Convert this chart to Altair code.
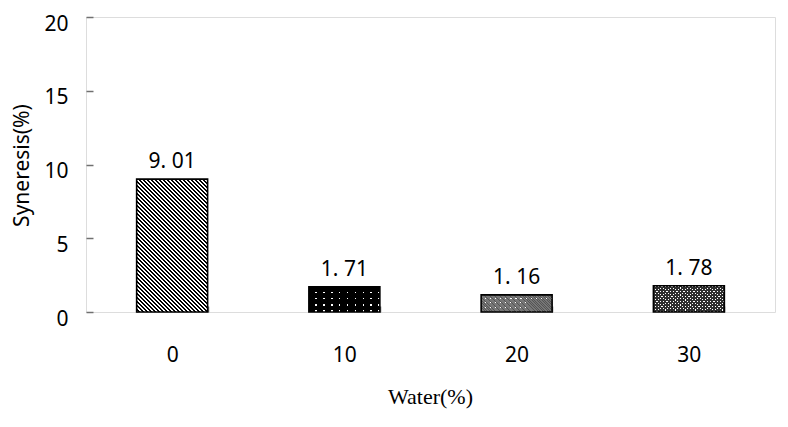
import altair as alt
import pandas as pd

# ---- data ----
water = ["0", "10", "20", "30"]
syneresis = [9.01, 1.71, 1.16, 1.78]
value_labels = ["9. 01", "1. 71", "1. 16", "1. 78"]

df = pd.DataFrame({"water": water, "syneresis": syneresis, "label": value_labels})

# ---- layout / style ----
W, H = 689, 295
YMAX = 20
PX = H / YMAX
P_IN, P_OUT = 0.588, 0.294
BAR_W = (W / len(water)) * (1 - P_IN)
FONT = "Noto Sans"
FS = 21


def stripe_stops(n, duty, on, off):
    stops = []
    for k in range(n):
        a = round(k / n, 5)
        b = round((k + duty) / n, 5)
        c = round((k + 1) / n, 5)
        stops += [
            {"offset": a, "color": on},
            {"offset": b, "color": on},
            {"offset": b, "color": off},
            {"offset": min(c, 1.0), "color": off},
        ]
    return stops


def grad_diag(w, h, period, duty, on, off, back=True):
    r = w / h
    s = (1 + r) / (1 + r * r)
    n = max(1, round((w + h) / period))
    if back:
        x1, y1, x2, y2 = 1, 0, 1 - r * s, s
    else:
        x1, y1, x2, y2 = 0, 0, r * s, s
    return {"gradient": "linear", "x1": x1, "y1": y1, "x2": x2, "y2": y2,
            "stops": stripe_stops(n, duty, on, off)}


def grad_axis(length, period, duty, on, off, horizontal=True):
    n = max(1, round(length / period))
    if horizontal:
        x1, y1, x2, y2 = 0, 0, 1, 0
    else:
        x1, y1, x2, y2 = 0, 0, 0, 1
    return {"gradient": "linear", "x1": x1, "y1": y1, "x2": x2, "y2": y2,
            "stops": stripe_stops(n, duty, on, off)}


CLEAR = "rgba(0,0,0,0)"

x_enc = alt.X(
    "water:N", sort=water,
    scale=alt.Scale(paddingInner=P_IN, paddingOuter=P_OUT),
    axis=alt.Axis(
        title="Water(%)", tickBand="extent", offset=-6, tickSize=6, domain=False,
        labelAngle=0, labelPadding=43, labelBaseline="middle", labelFont=FONT,
        labelFontSize=FS, labelColor="black", tickColor="#707070", tickWidth=1.5,
        titleX=344, titleY=90, titleBaseline="middle", titleAlign="center",
        titleFont="Liberation Serif", titleFontSize=22, titleFontWeight="normal",
        titleColor="black", grid=False,
    ),
)
y_enc = alt.Y(
    "syneresis:Q",
    scale=alt.Scale(domain=[0, YMAX], nice=False),
    axis=alt.Axis(
        title="Syneresis(%)", values=[0, 5, 10, 15, 20], offset=-7, tickSize=7,
        domain=False, grid=False, labelPadding=18, labelOffset=7, labelFont=FONT,
        labelFontSize=FS, labelColor="black", tickColor="#707070", tickWidth=1.5,
        titleX=-71, titleY=148, titleAngle=270, titleAlign="center",
        titleBaseline="middle", titleFont=FONT, titleFontSize=FS,
        titleFontWeight="normal", titleColor="black",
    ),
)

base = alt.Chart().encode(x=x_enc, y=y_enc)

layers = []
for i, cat in enumerate(water):
    h = max(syneresis[i] * PX, 1)
    sub = base.transform_filter(alt.datum.water == cat)
    layers.append(sub.mark_bar(fill="white", strokeWidth=0))
    if i == 0:
        fills = [grad_diag(BAR_W, h, 4.0, 0.42, "black", CLEAR, back=True)]
    elif i == 1:
        fills = [grad_axis(BAR_W, 7.5, 0.8, "black", CLEAR, horizontal=True),
                 grad_axis(h, 6.0, 0.75, "black", CLEAR, horizontal=False)]
    elif i == 2:
        fills = [grad_axis(BAR_W, 5.0, 0.75, "#777777", CLEAR, horizontal=True),
                 grad_axis(h, 4.5, 0.75, "#777777", CLEAR, horizontal=False),
                 grad_diag(BAR_W, h, 2.5, 0.3, "#555555", CLEAR, back=True)]
    else:
        fills = [grad_diag(BAR_W, h, 3.4, 0.6, "#2e2e2e", CLEAR, back=True),
                 grad_diag(BAR_W, h, 3.4, 0.6, "#2e2e2e", CLEAR, back=False)]
    for f in fills:
        layers.append(sub.mark_bar(fill=f, strokeWidth=0))
    layers.append(sub.mark_bar(fill="white", fillOpacity=0, stroke="black", strokeWidth=1.6))

labels = base.mark_text(dy=-11, fontSize=FS, font=FONT, color="black",
                        baseline="alphabetic").encode(text="label:N")
layers.append(labels)

chart = alt.layer(*layers, data=df).properties(
    width=W, height=H,
    autosize=alt.AutoSizeParams(type="none"),
    padding={"left": 78, "top": 9, "right": 5, "bottom": 100},
).configure_view(stroke="#707070", strokeWidth=2).configure(background="white")

chart.save("out.html", embed_options={"renderer": "svg", "actions": False})
